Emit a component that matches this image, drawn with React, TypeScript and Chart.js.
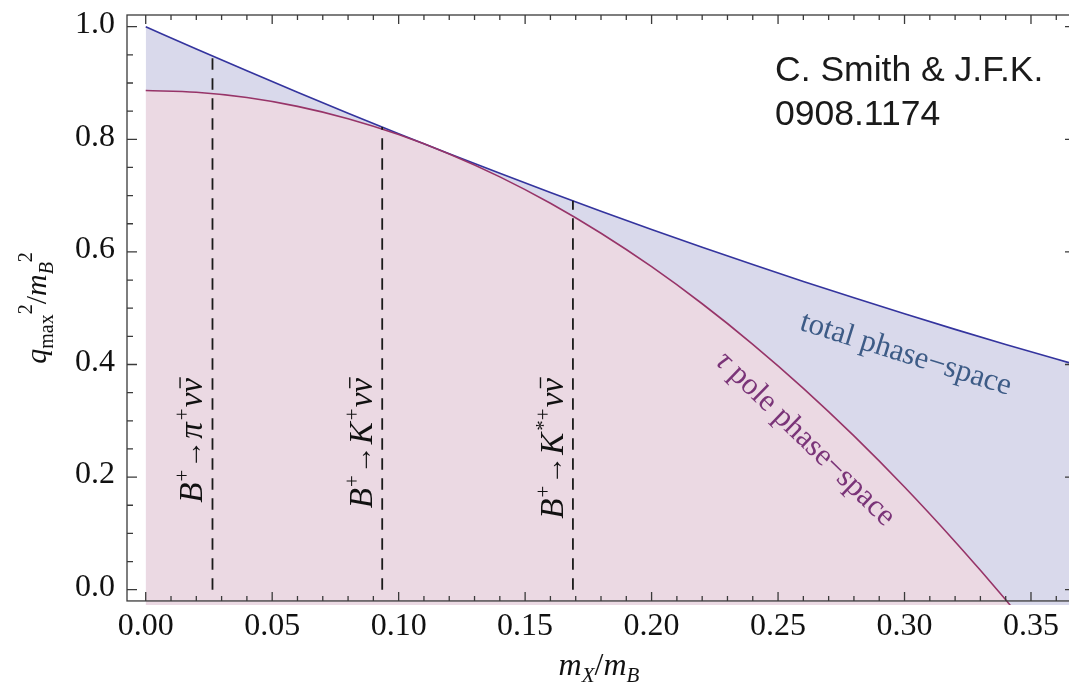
import React, { useEffect, useRef } from 'react';
import { Chart, registerables } from 'chart.js';

Chart.register(...registerables);

// ---- data ----
const totalX = [0, 0.02, 0.04, 0.06, 0.08, 0.1, 0.12, 0.14, 0.16, 0.18, 0.2, 0.22, 0.24, 0.26, 0.28, 0.3, 0.32, 0.34, 0.36, 0.3674];
const totalY = [1.0, 0.9604, 0.9216, 0.8836, 0.8464, 0.81, 0.7744, 0.7396, 0.7056, 0.6724, 0.64, 0.6084, 0.5776, 0.5476, 0.5184, 0.49, 0.4624, 0.4356, 0.4096, 0.4002];
const tauX = [0, 0.02, 0.04, 0.06, 0.08, 0.1, 0.12, 0.14, 0.16, 0.18, 0.2, 0.22, 0.24, 0.26, 0.28, 0.3, 0.32, 0.33, 0.34, 0.3418];
const tauY = [0.8867, 0.8836, 0.8742, 0.8585, 0.8366, 0.8084, 0.774, 0.7333, 0.6864, 0.6331, 0.5737, 0.5079, 0.4359, 0.3577, 0.2731, 0.1823, 0.0853, 0.0344, -0.018, -0.0276];
const decayX = [0.0264, 0.0935, 0.1689];
const decayTopY = [0.948, 0.8218, 0.6907];
const decayMeson = ['π', 'K', 'K'];
const decayMesonSup = ['+', '+', '*+'];
const xTickValues = [0, 0.05, 0.1, 0.15, 0.2, 0.25, 0.3, 0.35];
const xTickLabels = ['0.00', '0.05', '0.10', '0.15', '0.20', '0.25', '0.30', '0.35'];
const yTickValues = [0, 0.2, 0.4, 0.6, 0.8, 1.0];
const yTickLabels = ['0.0', '0.2', '0.4', '0.6', '0.8', '1.0'];

// ---- axis ranges ----
const X_MIN = -0.0074;
const X_MAX = 0.3674;
const Y_MIN = -0.0272;
const Y_MAX = 1.0208;
const FRAME_BOTTOM = -0.02;

const SERIF = '"Liberation Serif", "Times New Roman", Times, serif';
const SANS = '"Liberation Sans", Arial, Helvetica, sans-serif';
const BLUE = '#34349e';
const BLUE_FILL = '#d9d9eb';
const PINK = '#973468';
const PINK_FILL = '#ebd9e3';

type Run = { t: string; it?: boolean; sz: number; dy?: number; bar?: boolean; gap?: number };
const fontOf = (r: Run) => `${r.it ? 'italic ' : ''}${r.sz}px ${SERIF}`;

function runsWidth(ctx: CanvasRenderingContext2D, runs: Run[]) {
  let w = 0;
  for (const r of runs) {
    ctx.font = fontOf(r);
    w += ctx.measureText(r.t).width + (r.gap || 0);
  }
  return w;
}

function drawRuns(ctx: CanvasRenderingContext2D, runs: Run[], x0: number, y0: number) {
  let x = x0;
  for (const r of runs) {
    ctx.font = fontOf(r);
    const w = ctx.measureText(r.t).width;
    const y = y0 + (r.dy || 0);
    ctx.fillText(r.t, x, y);
    if (r.bar) {
      ctx.save();
      ctx.lineWidth = 1.4;
      ctx.strokeStyle = ctx.fillStyle as string;
      ctx.beginPath();
      ctx.moveTo(x + w * 0.3, y - r.sz * 0.68);
      ctx.lineTo(x + w * 1.05, y - r.sz * 0.68);
      ctx.stroke();
      ctx.restore();
    }
    x += w + (r.gap || 0);
  }
}

const SUP = -13;
const decayRuns = (m: string, sup: string): Run[] => [
  { t: 'B', it: true, sz: 33, gap: 1 },
  { t: '+', sz: 21, dy: SUP, gap: 1 },
  { t: '→', sz: 29, dy: -1, gap: 1 },
  { t: m, it: true, sz: 33, gap: 2 },
  { t: sup, sz: 21, dy: SUP, gap: 1 },
  { t: 'ν', it: true, sz: 33 },
  { t: 'ν', it: true, sz: 33, bar: true },
];

const overlay = {
  id: 'overlay',
  afterDatasetsDraw(chart: any) {
    const { ctx, chartArea: a, scales } = chart;
    const xs = scales.x;
    const ys = scales.y;
    const fb = ys.getPixelForValue(FRAME_BOTTOM);
    ctx.save();

    // frame
    ctx.strokeStyle = '#3a3a3a';
    ctx.lineWidth = 1.3;
    ctx.strokeRect(a.left, a.top, a.right - a.left, fb - a.top);

    // inward ticks
    ctx.beginPath();
    for (let k = 0; k <= 36; k++) {
      const v = k * 0.01;
      const len = k % 5 === 0 ? 9 : 5;
      const px = xs.getPixelForValue(v);
      ctx.moveTo(px, fb);
      ctx.lineTo(px, fb - len);
      ctx.moveTo(px, a.top);
      ctx.lineTo(px, a.top + len);
    }
    for (let k = 0; k <= 20; k++) {
      const v = k * 0.05;
      const len = k % 4 === 0 ? 10 : 6;
      const py = ys.getPixelForValue(v);
      ctx.moveTo(a.left, py);
      ctx.lineTo(a.left + len, py);
      ctx.moveTo(a.right, py);
      ctx.lineTo(a.right - len, py);
    }
    ctx.stroke();

    ctx.textAlign = 'left';
    ctx.textBaseline = 'alphabetic';

    // decay labels (rotated)
    ctx.fillStyle = '#111';
    for (let i = 0; i < decayX.length; i++) {
      const runs = decayRuns(decayMeson[i], decayMesonSup[i]);
      const w = runsWidth(ctx, runs);
      ctx.save();
      ctx.translate(xs.getPixelForValue(decayX[i]) - 10, ys.getPixelForValue(0.376));
      ctx.rotate(-Math.PI / 2);
      drawRuns(ctx, runs, -w, 0);
      ctx.restore();
    }

    // total phase-space
    {
      const runs: Run[] = [{ t: 'total phase−space', sz: 31 }];
      const w = runsWidth(ctx, runs);
      ctx.save();
      ctx.fillStyle = '#3d5b86';
      ctx.translate(xs.getPixelForValue(0.2995), ys.getPixelForValue(0.404));
      ctx.rotate((17.4 * Math.PI) / 180);
      drawRuns(ctx, runs, -w / 2, 0);
      ctx.restore();
    }
    // tau pole phase-space
    {
      const runs: Run[] = [
        { t: 'τ', it: true, sz: 31 },
        { t: ' pole phase−space', sz: 31 },
      ];
      const w = runsWidth(ctx, runs);
      ctx.save();
      ctx.fillStyle = '#7a3478';
      ctx.translate(xs.getPixelForValue(0.2585), ys.getPixelForValue(0.257));
      ctx.rotate((44 * Math.PI) / 180);
      drawRuns(ctx, runs, -w / 2, 0);
      ctx.restore();
    }

    // credit
    ctx.fillStyle = '#1a1a1a';
    ctx.font = `35.5px ${SANS}`;
    ctx.fillText('C. Smith & J.F.K.', xs.getPixelForValue(0.2488), ys.getPixelForValue(0.903));
    ctx.fillText('0908.1174', xs.getPixelForValue(0.2488), ys.getPixelForValue(0.825));

    // axis titles
    ctx.fillStyle = '#111';
    {
      const runs: Run[] = [
        { t: 'm', it: true, sz: 32 },
        { t: 'X', it: true, sz: 21, dy: 7 },
        { t: '/', sz: 32 },
        { t: 'm', it: true, sz: 32 },
        { t: 'B', it: true, sz: 21, dy: 7 },
      ];
      const w = runsWidth(ctx, runs);
      drawRuns(ctx, runs, (a.left + a.right) / 2 - w / 2 - 2, 675);
    }
    {
      const runs: Run[] = [
        { t: 'q', it: true, sz: 30 },
        { t: 'max', sz: 20, dy: 7 },
        { t: '2', sz: 20, dy: -14 },
        { t: '/', sz: 30 },
        { t: 'm', it: true, sz: 30 },
        { t: 'B', it: true, sz: 20, dy: 7 },
        { t: '2', sz: 20, dy: -14 },
      ];
      const w = runsWidth(ctx, runs);
      ctx.save();
      ctx.translate(46, (a.top + fb) / 2);
      ctx.rotate(-Math.PI / 2);
      drawRuns(ctx, runs, -w / 2, 0);
      ctx.restore();
    }

    ctx.restore();
  },
};

export default function App() {
  const ref = useRef<HTMLCanvasElement>(null);
  useEffect(() => {
    const canvas = ref.current;
    if (!canvas) return;
    const tickFont = { family: SERIF, size: 32 };
    const chart = new Chart(canvas, {
      type: 'line',
      data: {
        datasets: [
          ...decayX.map((x, i) => ({
            data: [
              { x, y: 0 },
              { x, y: decayTopY[i] },
            ],
            borderColor: '#1a1a1a',
            borderWidth: 1.8,
            borderDash: [11.5, 8.5],
            pointRadius: 0,
            fill: false,
          })),
          {
            data: tauX.map((x, i) => ({ x, y: tauY[i] })),
            borderColor: PINK,
            borderWidth: 1.6,
            backgroundColor: PINK_FILL,
            fill: 'start',
            pointRadius: 0,
            cubicInterpolationMode: 'monotone',
          },
          {
            data: totalX.map((x, i) => ({ x, y: totalY[i] })),
            borderColor: BLUE,
            borderWidth: 1.6,
            backgroundColor: BLUE_FILL,
            fill: 'start',
            pointRadius: 0,
            cubicInterpolationMode: 'monotone',
          },
        ] as any,
      },
      options: {
        animation: false,
        responsive: false,
        events: [],
        layout: { padding: { top: 15, right: 5, left: 0, bottom: 0 } },
        plugins: {
          legend: { display: false },
          tooltip: { enabled: false },
          filler: { drawTime: 'beforeDatasetsDraw' },
        } as any,
        scales: {
          x: {
            type: 'linear',
            min: X_MIN,
            max: X_MAX,
            afterBuildTicks: (s: any) => {
              s.ticks = xTickValues.map((v) => ({ value: v }));
            },
            afterFit: (s: any) => {
              s.height = 83;
              s.paddingLeft = 0;
              s.paddingRight = 0;
            },
            ticks: {
              callback: (_v: any, i: number) => xTickLabels[i],
              font: tickFont,
              color: '#111',
              padding: 2,
              maxRotation: 0,
              autoSkip: false,
            },
            grid: { display: false, drawTicks: false },
            border: { display: false },
          },
          y: {
            type: 'linear',
            min: Y_MIN,
            max: Y_MAX,
            afterBuildTicks: (s: any) => {
              s.ticks = yTickValues.map((v) => ({ value: v }));
            },
            afterFit: (s: any) => {
              s.width = 127;
              s.paddingTop = 0;
              s.paddingBottom = 0;
            },
            ticks: {
              callback: (_v: any, i: number) => yTickLabels[i],
              font: tickFont,
              color: '#111',
              padding: 12,
              labelOffset: -2,
              autoSkip: false,
            },
            grid: { display: false, drawTicks: false },
            border: { display: false },
          },
        },
      } as any,
      plugins: [overlay],
    });
    return () => chart.destroy();
  }, []);
  return (
    <div
      style={{
        position: 'absolute',
        left: 0,
        top: 0,
        width: 1069,
        height: 688,
        overflow: 'hidden',
        background: '#fff',
      }}
    >
      <canvas ref={ref} width={1080} height={688} style={{ display: 'block' }} />
    </div>
  );
}
